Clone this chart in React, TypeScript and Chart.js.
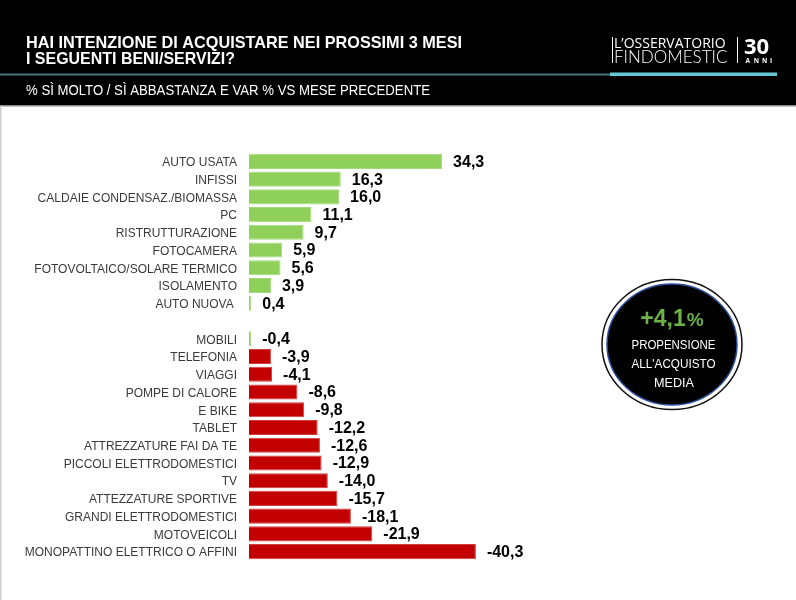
import React, { useEffect, useRef } from "react";
import { Chart, registerables } from "chart.js";

Chart.register(...registerables);

const categories = [
  "AUTO USATA",
  "INFISSI",
  "CALDAIE CONDENSAZ./BIOMASSA",
  "PC",
  "RISTRUTTURAZIONE",
  "FOTOCAMERA",
  "FOTOVOLTAICO/SOLARE TERMICO",
  "ISOLAMENTO",
  "AUTO NUOVA ",
  "",
  "MOBILI",
  "TELEFONIA",
  "VIAGGI",
  "POMPE DI CALORE",
  "E BIKE",
  "TABLET",
  "ATTREZZATURE FAI DA TE",
  "PICCOLI ELETTRODOMESTICI",
  "TV",
  "ATTEZZATURE SPORTIVE",
  "GRANDI ELETTRODOMESTICI",
  "MOTOVEICOLI",
  "MONOPATTINO ELETTRICO O AFFINI",
];

const values: (number | null)[] = [
  34.3, 16.3, 16.0, 11.1, 9.7, 5.9, 5.6, 3.9, 0.4, null,
  -0.4, -3.9, -4.1, -8.6, -9.8, -12.2, -12.6, -12.9, -14.0, -15.7, -18.1, -21.9, -40.3,
];

const titleLines = [
  "HAI INTENZIONE DI ACQUISTARE NEI PROSSIMI 3 MESI",
  "I SEGUENTI BENI/SERVIZI?",
];
const subtitle = "% SÌ MOLTO / SÌ ABBASTANZA E VAR % VS MESE PRECEDENTE";
const badgeValue = "+4,1";
const badgeLines = ["PROPENSIONE", "ALL'ACQUISTO", "MEDIA"];

const GREEN = "#8fd05a";
const GREEN_BORDER = "#a3da78";
const RED = "#c20000";
const RED_BORDER = "#d23c3c";

const fmt = (v: number) => v.toFixed(1).replace(".", ",");

const decorPlugin = {
  id: "decor",
  beforeDraw(chart: any) {
    const ctx = chart.ctx as CanvasRenderingContext2D;
    ctx.save();
    ctx.fillStyle = "#ffffff";
    ctx.fillRect(0, 0, 796, 600);
    // header
    ctx.fillStyle = "#000000";
    ctx.fillRect(0, 0, 796, 105);
    ctx.fillStyle = "#8a8a8a";
    ctx.fillRect(0, 105, 796, 1.5);
    // teal lines
    ctx.fillStyle = "#46747c";
    ctx.fillRect(0, 73.5, 612, 2);
    ctx.fillStyle = "#62c8d4";
    ctx.fillRect(610, 72.5, 167, 3.5);
    // left edge line
    ctx.fillStyle = "#cfcfcf";
    ctx.fillRect(0, 106, 1.5, 494);

    // title
    ctx.fillStyle = "#ffffff";
    ctx.textBaseline = "alphabetic";
    ctx.textAlign = "left";
    ctx.font = 'bold 17px "Liberation Sans", Arial, sans-serif';
    ctx.fillText(titleLines[0], 26, 47.5, 436);
    ctx.fillText(titleLines[1], 26, 63.5, 209);
    ctx.font = '14px "Liberation Sans", Arial, sans-serif';
    ctx.fillText(subtitle, 26, 95, 404);

    // logo
    ctx.font = '500 14px "Open Sans", sans-serif';
    ctx.fillText("L\u2019OSSERVATORIO", 614, 47.5, 121);
    ctx.font = '300 17px "Lato", "Open Sans", sans-serif';
    ctx.fillText("FINDOMESTIC", 614, 62.5, 121);
    ctx.fillRect(612, 37, 1, 26);
    ctx.fillRect(737, 37, 1, 26);
    ctx.font = 'bold 22px "Open Sans", sans-serif';
    ctx.fillText("30", 744, 54, 32);
    ctx.font = 'bold 6.5px "Open Sans", sans-serif';
    const anni = ["A", "N", "N", "I"];
    anni.forEach((ch, i) => ctx.fillText(ch, 745.5 + i * 8.2, 62.5));

    // badge
    ctx.beginPath();
    ctx.ellipse(672, 344.5, 70, 65, 0, 0, Math.PI * 2);
    ctx.fillStyle = "#ffffff";
    ctx.fill();
    ctx.lineWidth = 1.5;
    ctx.strokeStyle = "#111111";
    ctx.stroke();
    ctx.beginPath();
    ctx.ellipse(672, 344.5, 65, 60.5, 0, 0, Math.PI * 2);
    ctx.fillStyle = "#000000";
    ctx.fill();
    ctx.lineWidth = 1.5;
    ctx.strokeStyle = "#2b4f9e";
    ctx.stroke();

    ctx.fillStyle = "#6ab344";
    ctx.font = 'bold 23px "Liberation Sans", Arial, sans-serif';
    const vw = ctx.measureText(badgeValue).width;
    ctx.font = 'bold 19px "Liberation Sans", Arial, sans-serif';
    const pw = ctx.measureText("%").width;
    const sx = 672 - (vw + pw + 1) / 2;
    ctx.font = 'bold 23px "Liberation Sans", Arial, sans-serif';
    ctx.fillText(badgeValue, sx, 325.5);
    ctx.font = 'bold 19px "Liberation Sans", Arial, sans-serif';
    ctx.fillText("%", sx + vw + 1, 325.5);

    ctx.fillStyle = "#ffffff";
    ctx.textAlign = "center";
    ctx.font = '13px "Liberation Sans", Arial, sans-serif';
    ctx.fillText(badgeLines[0], 673.5, 349, 84);
    ctx.fillText(badgeLines[1], 673.5, 368, 84);
    ctx.fillText(badgeLines[2], 674, 387, 40);
    ctx.restore();
  },
  afterDatasetsDraw(chart: any) {
    const ctx = chart.ctx as CanvasRenderingContext2D;
    const meta = chart.getDatasetMeta(0);
    ctx.save();
    ctx.fillStyle = "#000000";
    ctx.font = 'bold 16px "Liberation Sans", Arial, sans-serif';
    ctx.textAlign = "left";
    ctx.textBaseline = "middle";
    meta.data.forEach((bar: any, i: number) => {
      const v = values[i];
      if (v === null || v === undefined) return;
      ctx.fillText(fmt(v), bar.x + 11, bar.y + 1);
    });
    ctx.restore();
  },
};

export default function App() {
  const canvasRef = useRef<HTMLCanvasElement | null>(null);

  useEffect(() => {
    if (!canvasRef.current) return;
    const data = values.map((v) => (v === null ? null : Math.abs(v)));
    const bg = values.map((v) => (v !== null && v > -1 ? GREEN : RED));
    const bd = values.map((v) => (v !== null && v > -1 ? GREEN_BORDER : RED_BORDER));
    const chart = new Chart(canvasRef.current, {
      type: "bar",
      data: {
        labels: categories,
        datasets: [
          {
            data,
            backgroundColor: bg,
            borderColor: bd,
            borderWidth: 1,
            barPercentage: 0.85,
            categoryPercentage: 1,
          },
        ],
      },
      options: {
        indexAxis: "y",
        responsive: false,
        animation: false,
        devicePixelRatio: 1,
        layout: { padding: { left: 0, right: 265.5, top: 152.5, bottom: 39.5 } },
        plugins: { legend: { display: false }, tooltip: { enabled: false } },
        scales: {
          x: { display: false, min: 0, max: 50 },
          y: {
            grid: { display: false, drawTicks: false },
            border: { display: false },
            ticks: {
              autoSkip: false,
              padding: 12,
              labelOffset: 1.5,
              color: "#3a3a3a",
              font: { family: '"Liberation Sans", Arial, sans-serif', size: 12 },
            },
            afterFit: (scale: any) => {
              scale.width = 249;
            },
          },
        },
      },
      plugins: [decorPlugin],
    } as any);
    return () => chart.destroy();
  }, []);

  return (
    <div style={{ position: "fixed", left: 0, top: 0, width: 796, height: 600 }}>
      <canvas ref={canvasRef} width={796} height={600} style={{ display: "block", width: 796, height: 600 }} />
    </div>
  );
}
